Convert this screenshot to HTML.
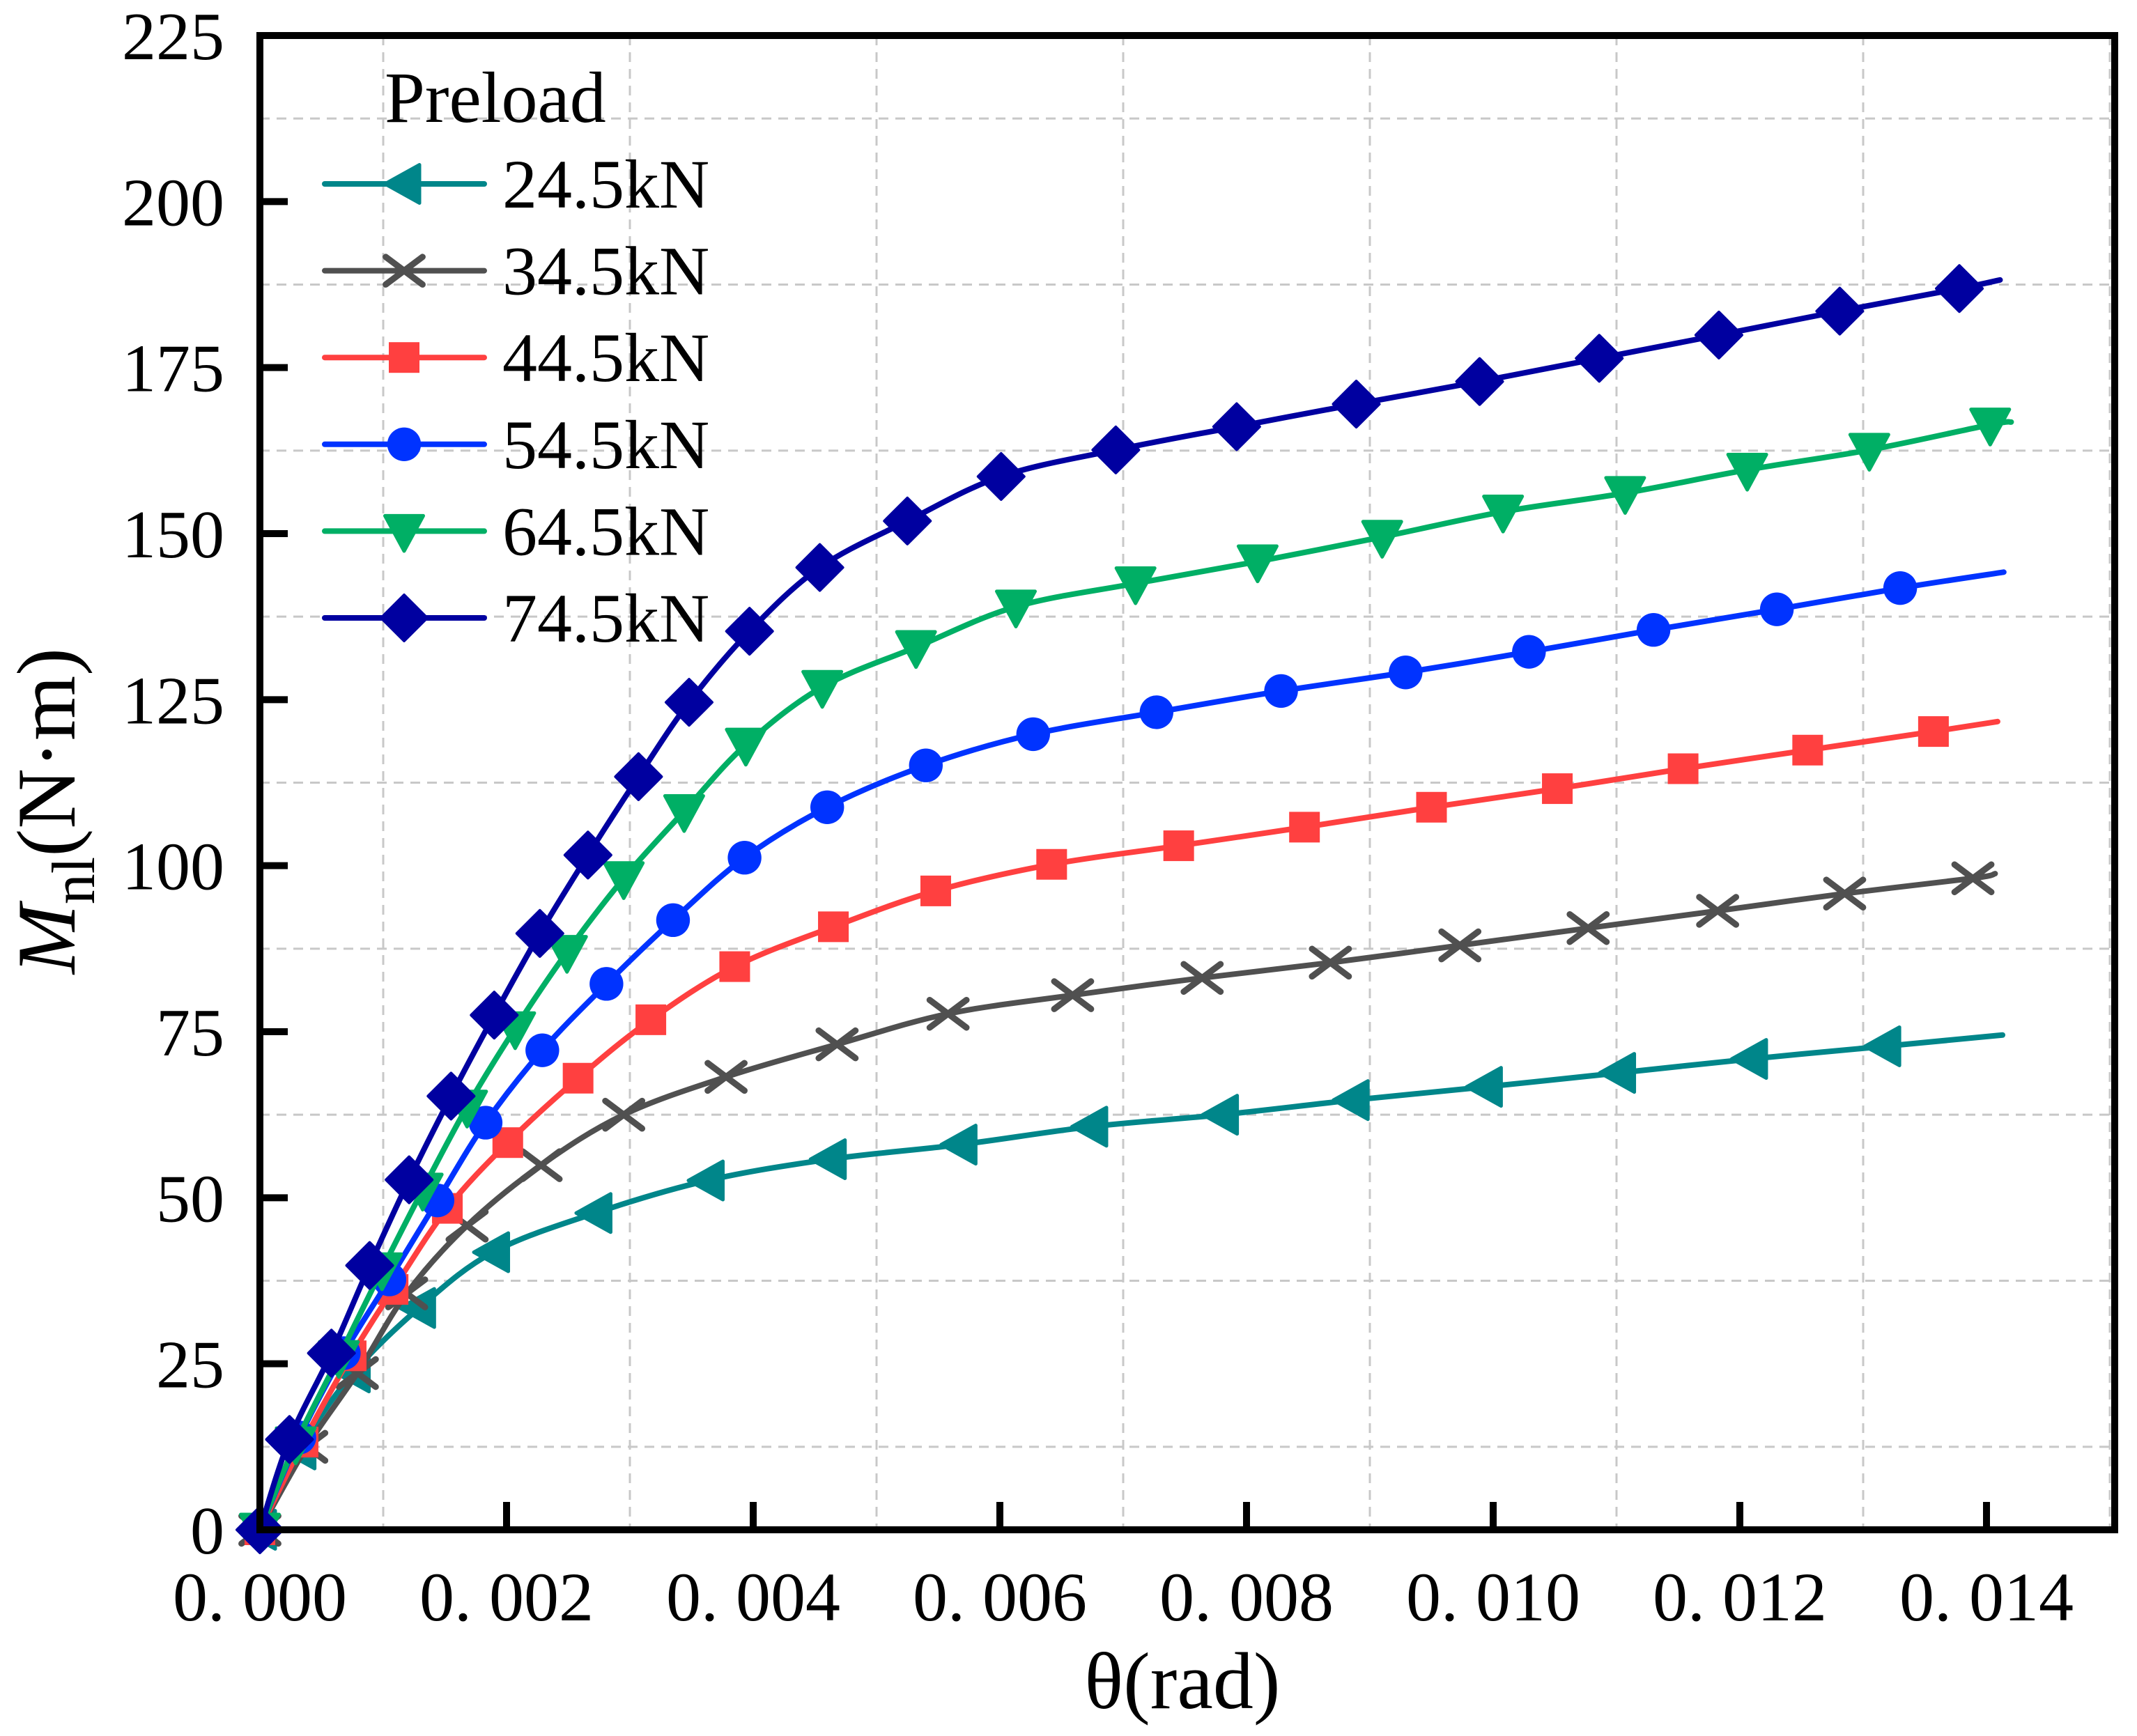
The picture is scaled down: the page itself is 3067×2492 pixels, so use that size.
<!DOCTYPE html>
<html><head><meta charset="utf-8">
<style>
html,body{margin:0;padding:0;background:#fff;}
svg{display:block;}
text{font-family:"Liberation Serif","Times New Roman",serif;fill:#000;}
</style></head>
<body>
<svg id="chart" width="3067" height="2492" viewBox="0 0 3067 2492" xmlns="http://www.w3.org/2000/svg">
<g id="grid"></g>
<g id="series"></g>
<g id="axes"></g>
<g id="legend"></g>
</svg>
<script>
const xTicks = [0, 0.002, 0.004, 0.006, 0.008, 0.010, 0.012, 0.014];
const xTickLabels = ["0. 000","0. 002","0. 004","0. 006","0. 008","0. 010","0. 012","0. 014"];
const yTicks = [0,25,50,75,100,125,150,175,200,225];
const yTickLabels = ["0","25","50","75","100","125","150","175","200","225"];
const seriesNames = ["24.5kN","34.5kN","44.5kN","54.5kN","64.5kN","74.5kN"];

const x245 = [0,.00032,.00076,.00129,.00189,.00272,.00363,.00462,.00568,.00674,.0078,.00886,.00994,.01102,.01209,.01317,.01413];
const y245 = [0,12.1,23.7,33.4,41.8,47.7,52.6,55.8,58.0,60.7,62.5,64.7,66.7,68.8,70.9,72.8,74.5];
const x345 = [0,.00038,.00079,.00119,.00168,.00228,.00295,.00378,.00468,.00558,.00659,.00764,.00868,.00973,.01077,.01182,.01285,.01389,.01407];
const y345 = [0,12.5,23.6,35.6,45.8,54.9,62.5,68.2,73.1,77.7,80.5,83.1,85.4,88.0,90.6,93.2,95.8,98.1,98.8];
const x445 = [0,.00035,.00074,.00108,.00152,.00201,.00258,.00317,.00385,.00465,.00548,.00642,.00745,.00847,.0095,.01052,.01154,.01255,.01357,.01409];
const y445 = [0,13.2,26.2,36.2,48.4,58.3,68.0,76.8,84.8,90.8,96.2,100.2,103.0,105.8,108.8,111.6,114.6,117.4,120.2,121.7];
const x545 = [0,.00032,.00068,.00105,.00144,.00183,.00229,.00281,.00335,.00393,.0046,.0054,.00627,.00727,.00828,.00929,.01029,.0113,.0123,.0133,.01414];
const y545 = [0,13.9,26.6,37.7,49.6,61.3,72.2,82.2,91.8,101.2,108.8,115.1,119.8,123.1,126.3,129.1,132.2,135.5,138.6,141.8,144.2];
const x645 = [0,.00029,.00064,.00099,.00132,.00168,.00207,.00249,.00295,.00344,.00394,.00456,.00532,.00613,.0071,.00809,.0091,.01008,.01107,.01206,.01305,.01403,.0142];
const y645 = [0,13,26,39.2,51.2,63.7,75.5,87,98.1,108.2,118.2,126.9,132.9,139,142.5,145.8,149.5,153.3,156.1,159.6,162.6,166.4,166.8];
const x745 = [0,.00024,.00058,.00089,.00121,.00155,.0019,.00227,.00266,.00307,.00348,.00397,.00454,.00525,.00601,.00694,.00792,.00889,.00989,.01086,.01183,.01281,.01378,.01411];
const y745 = [0,13.6,26.6,39.8,52.7,65.3,77.5,89.8,101.6,113.4,124.6,135.3,144.9,151.9,158.6,162.6,166.1,169.5,172.9,176.4,179.9,183.5,186.9,188.2];
const unmarkedLast = [true,true,true,true,true,true];

const seriesX = [x245,x345,x445,x545,x645,x745];
const seriesY = [y245,y345,y445,y545,y645,y745];
const colors = ["#00868A","#505050","#FF4040","#0033FF","#00AF65","#0000A0"];
const markers = ["tri-left","x","square","circle","tri-down","diamond"];

const NS="http://www.w3.org/2000/svg";
const L=373,R=3035,T=51,B=2196;
const X=v=>L+v*177000;
const Y=v=>B-v*(B-T)/225;
function mk(tag,attrs,parent){const e=document.createElementNS(NS,tag);for(const k in attrs)e.setAttribute(k,attrs[k]);parent.appendChild(e);return e;}
const grid=document.getElementById('grid'),axes=document.getElementById('axes'),ser=document.getElementById('series'),leg=document.getElementById('legend');

for(let i=0;i<8;i++){const v=0.001+0.002*i;const gx=X(v);if(gx>R-4)continue;
 const l=mk('line',{x1:gx,y1:T,x2:gx,y2:B,stroke:'#c8c8c8','stroke-width':3,'stroke-dasharray':'14 10'},grid);
 
 }
for(let i=0;i<9;i++){const gy=Y(12.5+25*i);
 const l=mk('line',{x1:L,y1:gy,x2:R,y2:gy,stroke:'#c8c8c8','stroke-width':3,'stroke-dasharray':'14 10'},grid);
 
 }

function pathFor(xs,ys){const p=xs.map((x,i)=>[X(x),Y(ys[i])]);let d=`M${p[0][0]},${p[0][1]}`;
 for(let i=0;i<p.length-1;i++){const p0=p[i-1]||p[i],p1=p[i],p2=p[i+1],p3=p[i+2]||p2;
  const c1=[p1[0]+(p2[0]-p0[0])/6,p1[1]+(p2[1]-p0[1])/6],c2=[p2[0]-(p3[0]-p1[0])/6,p2[1]-(p3[1]-p1[1])/6];
  d+=` C${c1[0]},${c1[1]} ${c2[0]},${c2[1]} ${p2[0]},${p2[1]}`;}return d;}

function marker(type,cx,cy,col,parent,s){s=s||1.1;let e;
 if(type==='diamond')e=mk('polygon',{points:`${cx},${cy-30*s} ${cx+30*s},${cy} ${cx},${cy+30*s} ${cx-30*s},${cy}`,fill:col,stroke:col,'stroke-width':4,'stroke-linejoin':'round'},parent);
 else if(type==='circle')e=mk('circle',{cx,cy,r:22*s,fill:col},parent);
 else if(type==='square')e=mk('rect',{x:cx-20*s,y:cy-20*s,width:40*s,height:40*s,fill:col},parent);
 else if(type==='tri-down')e=mk('polygon',{points:`${cx-25*s},${cy-20*s} ${cx+25*s},${cy-20*s} ${cx},${cy+26*s}`,fill:col,stroke:col,'stroke-width':5,'stroke-linejoin':'round'},parent);
 else if(type==='tri-left')e=mk('polygon',{points:`${cx-25*s},${cy} ${cx+20*s},${cy-25*s} ${cx+20*s},${cy+25*s}`,fill:col,stroke:col,'stroke-width':5,'stroke-linejoin':'round'},parent);
 else {e=mk('path',{d:`M${cx-24*s},${cy-18*s}L${cx+24*s},${cy+18*s}M${cx-24*s},${cy+18*s}L${cx+24*s},${cy-18*s}`,stroke:col,'stroke-width':9,'stroke-linecap':'round',fill:'none'},parent);}
 return e;}

seriesX.forEach((xs,si)=>{const g=mk('g',{},ser);
 
 
 const p=mk('path',{d:pathFor(xs,seriesY[si]),fill:'none',stroke:colors[si],'stroke-width':8,'stroke-linecap':'round','stroke-linejoin':'round'},g);
 
 
 const n=unmarkedLast[si]?xs.length-1:xs.length;
 for(let i=0;i<n;i++){const m=marker(markers[si],X(xs[i]),Y(seriesY[si][i]),colors[si],g);
  
  }
});

const frame=mk('rect',{x:L,y:T,width:R-L,height:B-T,fill:'none',stroke:'#000','stroke-width':10},axes);


xTicks.forEach((v,i)=>{const tx=X(v);
 const t=mk('line',{x1:tx,y1:B,x2:tx,y2:B-40,stroke:'#000','stroke-width':10},axes);
 
 
 const lb=mk('text',{x:tx,y:2326,'text-anchor':'middle','font-size':100},axes);lb.textContent=xTickLabels[i];
 
 });
yTicks.forEach((v,i)=>{const ty=Y(v);
 const t=mk('line',{x1:L,y1:ty,x2:L+40,y2:ty,stroke:'#000','stroke-width':10},axes);
 
 
 const lb=mk('text',{x:322,y:ty+34,'text-anchor':'end','font-size':98},axes);lb.textContent=yTickLabels[i];
 
 });

const pre=mk('text',{x:552,y:175,'font-size':104},leg);pre.textContent='Preload';


seriesNames.forEach((nm,i)=>{const cy=264+124.6*i;const g=mk('g',{},leg);
 
 
 mk('line',{x1:466,y1:cy,x2:695,y2:cy,stroke:colors[i],'stroke-width':8,'stroke-linecap':'round'},g);
 marker(markers[i],580,cy,colors[i],g);
 const t=mk('text',{x:721,y:cy+34,'font-size':100},g);t.textContent=nm;});

const s=document.getElementById('chart');
const xt=document.createElementNS(NS,'text');
xt.setAttribute('x','1697');xt.setAttribute('y','2452');xt.setAttribute('text-anchor','middle');xt.setAttribute('font-size','116');
xt.textContent='θ(rad)';


s.appendChild(xt);
const yt=document.createElementNS(NS,'text');
yt.setAttribute('transform','translate(107,1164) rotate(-90)');yt.setAttribute('text-anchor','middle');yt.setAttribute('font-size','120');
yt.innerHTML='<tspan font-style="italic">M</tspan><tspan font-size="88" dy="28">nl</tspan><tspan dy="-28">(N·m)</tspan>';


s.appendChild(yt);
</script>
</body></html>
